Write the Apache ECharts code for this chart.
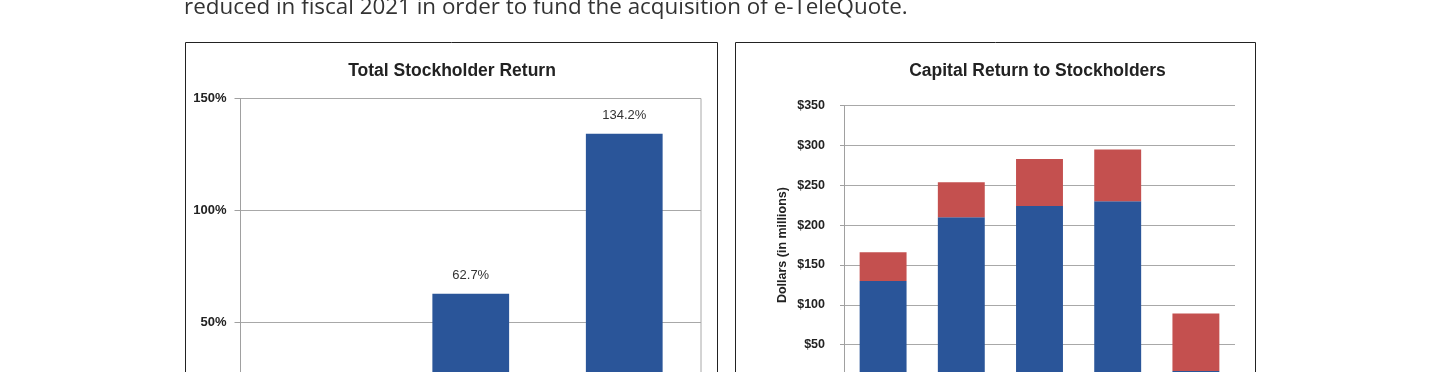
<!DOCTYPE html>
<html>
<head>
<meta charset="utf-8">
<script src="https://cdn.jsdelivr.net/npm/echarts@6/dist/echarts.min.js"></script>
<style>
html,body{margin:0;padding:0;background:#fff;overflow:hidden;}
#c{width:1440px;height:520px;}
</style>
</head>
<body>
<div id="c"></div>
<script>
// ---- data ----
const introText = 'reduced in fiscal 2021 in order to fund the acquisition of e-TeleQuote.';
const tsrTitle = 'Total Stockholder Return';
const tsrCategories = ['1-Year', '3-Year', '5-Year'];
const tsrValues = [15.3, 62.7, 134.2];
const capTitle = 'Capital Return to Stockholders';
const capAxisName = 'Dollars (in millions)';
const capCategories = ['2017', '2018', '2019', '2020', '2021'];
const capRepurchases = [130, 210, 224, 230, 17];
const capDividends = [36, 44, 59, 65, 72];
const seriesNames = ['Share Repurchases', 'Dividends'];

const H = 520;
const chart = echarts.init(document.getElementById('c'), null, {renderer: 'canvas'});
const axisFont = 'Liberation Sans, Arial, sans-serif';

chart.setOption({
  animation: false,
  backgroundColor: '#fff',
  graphic: [
    {type: 'text', left: 184, top: -3, silent: true,
      style: {text: introText, font: '22.4px "Open Sans", sans-serif', fill: '#333'}},
    {type: 'text', silent: true, x: 452, y: 71,
      style: {text: tsrTitle, align: 'center', verticalAlign: 'middle', font: 'bold 17.5px "Liberation Sans", Arial, sans-serif', fill: '#222'}},
    {type: 'text', silent: true, x: 1037.5, y: 71,
      style: {text: capTitle, align: 'center', verticalAlign: 'middle', font: 'bold 17.5px "Liberation Sans", Arial, sans-serif', fill: '#222'}},
    {type: 'rect', shape: {x: 185.5, y: 42.5, width: 532, height: 440}, silent: true,
      style: {fill: 'none', stroke: '#222', lineWidth: 1}},
    {type: 'rect', shape: {x: 735.5, y: 42.5, width: 520, height: 440}, silent: true,
      style: {fill: 'none', stroke: '#222', lineWidth: 1}}
  ],
  grid: [
    {left: 240.5, right: 1440 - 701, top: 98.5, bottom: H - 434, show: true, borderColor: '#a8a8a8', borderWidth: 1, backgroundColor: 'transparent'},
    {left: 844, right: 1440 - 1235, top: 105.7, bottom: H - 384.5}
  ],
  xAxis: [
    {type: 'category', gridIndex: 0, data: tsrCategories,
      axisLine: {lineStyle: {color: '#999'}}, axisTick: {show: false},
      axisLabel: {fontFamily: axisFont, fontSize: 13, fontWeight: 'bold', color: '#222'}},
    {type: 'category', gridIndex: 1, data: capCategories,
      axisLine: {lineStyle: {color: '#999'}}, axisTick: {show: false},
      axisLabel: {fontFamily: axisFont, fontSize: 12.5, fontWeight: 'bold', color: '#222'}}
  ],
  yAxis: [
    {type: 'value', gridIndex: 0, min: 0, max: 150, interval: 50,
      axisLine: {show: true, lineStyle: {color: '#a0a0a0'}},
      axisTick: {show: true, length: 6, lineStyle: {color: '#a0a0a0'}},
      splitLine: {lineStyle: {color: '#a8a8a8'}},
      axisLabel: {formatter: '{value}%', margin: 14, fontFamily: axisFont, fontSize: 13, fontWeight: 'bold', color: '#222'}},
    {type: 'value', gridIndex: 1, min: 0, max: 350, interval: 50,
      name: capAxisName, nameLocation: 'middle', nameGap: 55, nameRotate: 90,
      nameTextStyle: {fontFamily: axisFont, fontSize: 12.5, fontWeight: 'bold', color: '#222'},
      axisLine: {show: true, lineStyle: {color: '#a0a0a0'}},
      axisTick: {show: true, length: 4, lineStyle: {color: '#a0a0a0'}},
      splitLine: {lineStyle: {color: '#a8a8a8'}},
      axisLabel: {formatter: '${value}', margin: 19, fontFamily: axisFont, fontSize: 12.5, fontWeight: 'bold', color: '#222'}}
  ],
  series: [
    {type: 'bar', xAxisIndex: 0, yAxisIndex: 0, data: tsrValues, barWidth: '50%',
      itemStyle: {color: '#2a5599'},
      label: {show: true, position: 'top', distance: 12, formatter: '{c}%', fontFamily: axisFont, fontSize: 13, color: '#333'}},
    {name: seriesNames[0], type: 'bar', stack: 'cap', xAxisIndex: 1, yAxisIndex: 1, data: capRepurchases, barWidth: '60%',
      itemStyle: {color: '#2a5599'}},
    {name: seriesNames[1], type: 'bar', stack: 'cap', xAxisIndex: 1, yAxisIndex: 1, data: capDividends, barWidth: '60%',
      itemStyle: {color: '#c4504f'}}
  ]
});
</script>
</body>
</html>
